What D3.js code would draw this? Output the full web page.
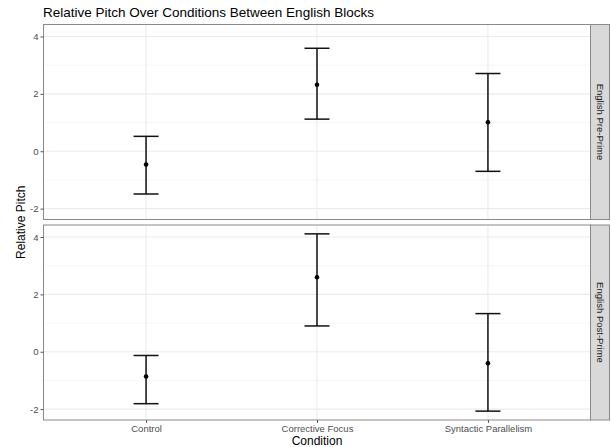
<!DOCTYPE html>
<html><head><meta charset="utf-8">
<script src="https://cdn.jsdelivr.net/npm/d3@7"></script>
<style>body{margin:0;background:#fff;} text{font-family:"Liberation Sans",Arial,sans-serif;}</style>
</head><body>
<svg id="c" width="611" height="447"></svg>
<script>
const categories = ["Control", "Corrective Focus", "Syntactic Parallelism"];
const panels = ["English Pre-Prime", "English Post-Prime"];
const preMean  = [-0.46, 2.32, 1.01];
const preLow   = [-1.49, 1.12, -0.70];
const preHigh  = [0.52, 3.59, 2.71];
const postMean = [-0.86, 2.60, -0.40];
const postLow  = [-1.81, 0.90, -2.07];
const postHigh = [-0.13, 4.11, 1.33];
const yTicks = [-2, 0, 2, 4];
const yMinor = [-1, 1, 3];

const data = [
  categories.map((c,i)=>({c, m:preMean[i], lo:preLow[i], hi:preHigh[i]})),
  categories.map((c,i)=>({c, m:postMean[i], lo:postLow[i], hi:postHigh[i]}))
];

const svg = d3.select("#c");
const L = 43.5, R = 590.5, stripW = 19;
const panelTops = [24.5, 225], panelH = 195;

const allLo = d3.min([...preLow, ...postLow]), allHi = d3.max([...preHigh, ...postHigh]);
const pad = (allHi - allLo) * 0.05;

const x = d3.scalePoint().domain(categories).range([L, R]).padding(0.6);

panels.forEach((p, pi) => {
  const top = panelTops[pi];
  const y = d3.scaleLinear().domain([allLo - pad, allHi + pad]).range([top + panelH, top]);
  const g = svg.append("g");
  g.append("rect").attr("x", L).attr("y", top).attr("width", R - L).attr("height", panelH).attr("fill", "#fff");
  g.selectAll(".mn").data(yMinor).enter().append("line")
    .attr("x1", L).attr("x2", R).attr("y1", d => y(d)).attr("y2", d => y(d))
    .attr("stroke", "#f2f2f2").attr("stroke-width", 0.6);
  g.selectAll(".mj").data(yTicks).enter().append("line")
    .attr("x1", L).attr("x2", R).attr("y1", d => y(d)).attr("y2", d => y(d))
    .attr("stroke", "#ebebeb").attr("stroke-width", 1.1);
  g.selectAll(".vx").data(categories).enter().append("line")
    .attr("x1", d => x(d)).attr("x2", d => x(d)).attr("y1", top).attr("y2", top + panelH)
    .attr("stroke", "#ebebeb").attr("stroke-width", 1.1);
  const eb = g.selectAll(".eb").data(data[pi]).enter().append("g");
  eb.append("line").attr("x1", d => x(d.c)).attr("x2", d => x(d.c))
    .attr("y1", d => y(d.lo)).attr("y2", d => y(d.hi)).attr("stroke", "#111").attr("stroke-width", 1.5);
  eb.append("line").attr("x1", d => x(d.c) - 12.5).attr("x2", d => x(d.c) + 12.5)
    .attr("y1", d => y(d.lo)).attr("y2", d => y(d.lo)).attr("stroke", "#111").attr("stroke-width", 1.5);
  eb.append("line").attr("x1", d => x(d.c) - 12.5).attr("x2", d => x(d.c) + 12.5)
    .attr("y1", d => y(d.hi)).attr("y2", d => y(d.hi)).attr("stroke", "#111").attr("stroke-width", 1.5);
  eb.append("circle").attr("cx", d => x(d.c)).attr("cy", d => y(d.m)).attr("r", 2.3).attr("fill", "#000");
  g.append("rect").attr("x", L).attr("y", top).attr("width", R - L).attr("height", panelH)
    .attr("fill", "none").attr("stroke", "#8a8a8a").attr("stroke-width", 1);
  const ya = d3.axisLeft(y).tickValues(yTicks).tickSize(3).tickPadding(2)
    .tickFormat(d => String(d));
  const ag = g.append("g").attr("transform", `translate(${L},0)`).call(ya);
  ag.select(".domain").remove();
  ag.selectAll(".tick line").attr("stroke", "#555");
  ag.selectAll(".tick text").attr("fill", "#4d4d4d").style("font-size", "9.5px")
    .style("font-family", "'Liberation Sans',Arial,sans-serif");
  g.append("rect").attr("x", R).attr("y", top).attr("width", stripW).attr("height", panelH)
    .attr("fill", "#d9d9d9").attr("stroke", "#8a8a8a").attr("stroke-width", 1);
  g.append("text").attr("transform", `translate(${R + stripW/2},${top + panelH/2}) rotate(90)`)
    .attr("text-anchor", "middle").attr("dy", "0.35em").attr("fill", "#1a1a1a")
    .style("font-size", "9.5px").text(p);

  if (pi === 1) {
    const xa = d3.axisBottom(x).tickSize(3).tickPadding(2);
    const xg = g.append("g").attr("transform", `translate(0,${top + panelH})`).call(xa);
    xg.select(".domain").remove();
    xg.selectAll(".tick line").attr("stroke", "#555");
    xg.selectAll(".tick text").attr("fill", "#4d4d4d").style("font-size", "9.5px")
      .style("font-family", "'Liberation Sans',Arial,sans-serif");
  }
});

svg.append("text").attr("x", 43).attr("y", 17).style("font-size", "13.5px").attr("fill", "#000")
  .text("Relative Pitch Over Conditions Between English Blocks");
svg.append("text").attr("x", (L + R) / 2).attr("y", 445).attr("text-anchor", "middle")
  .style("font-size", "12px").attr("fill", "#000").text("Condition");
svg.append("text").attr("transform", `translate(25,${(24.5 + 420) / 2}) rotate(-90)`)
  .attr("text-anchor", "middle").style("font-size", "12px").attr("fill", "#000").text("Relative Pitch");
</script>
</body></html>
